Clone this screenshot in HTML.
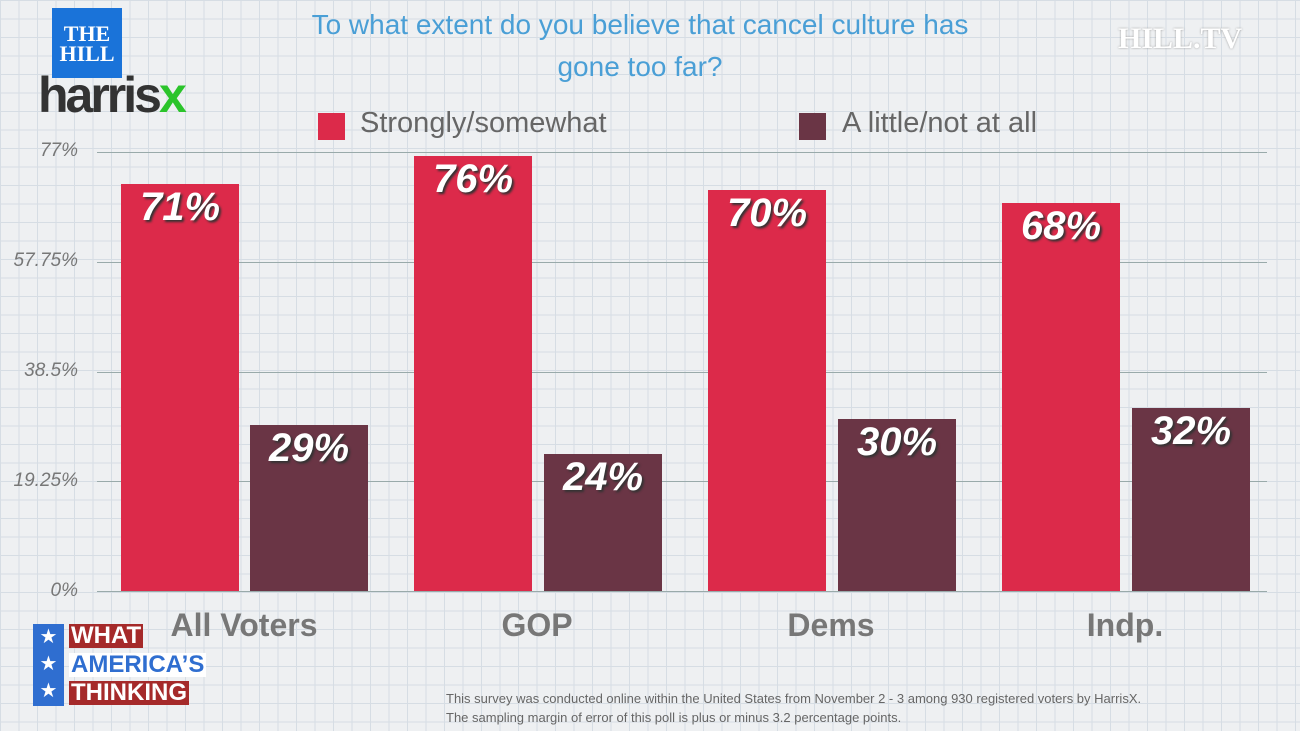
<!DOCTYPE html>
<html><head><meta charset="utf-8"><style>
body{margin:0}
#c{position:relative;width:1300px;height:731px;overflow:hidden;font-family:"Liberation Sans",sans-serif;
background-color:#eef0f2;
background-image:linear-gradient(#d6dde4 1px,transparent 1px),linear-gradient(90deg,#d6dde4 1px,transparent 1px),linear-gradient(#c8d2dc 1px,transparent 1px),linear-gradient(90deg,#c8d2dc 1px,transparent 1px);
background-size:18.5px 18.5px,18.5px 18.5px,92.5px 92.5px,92.5px 92.5px;}
.a{position:absolute}
.bar{position:absolute;width:118px;bottom:140px}
.r{background:#dc2a4a}
.d{background:#6a3545}
.v{position:absolute;width:118px;text-align:center;color:#fff;font-weight:bold;font-style:italic;font-size:40px;text-shadow:2px 2px 2px #333}
.yl{position:absolute;left:0;width:78px;text-align:right;color:#777;font-style:italic;font-size:19px}
.gl{position:absolute;left:97px;width:1170px;height:1px;background:#9aa}
.cat{position:absolute;width:240px;text-align:center;color:#777;font-size:32px;font-weight:bold;top:607px}
</style></head><body><div id="c">
<div class="a" style="left:52px;top:8px;width:70px;height:70px;background:#1a73d9;color:#fff;font-family:'Liberation Serif',serif;font-weight:bold;font-size:22px;line-height:20px;text-align:center;padding-top:16px;box-sizing:border-box">THE<br>HILL</div>
<div class="a" style="left:38px;top:66px;font-size:50px;font-weight:bold;color:#333;letter-spacing:-3px">harris<span style="color:#2bc42b">x</span></div>
<div class="a" style="left:200px;top:4px;width:880px;text-align:center;color:#4a9fd6;font-size:28px;line-height:42px">To what extent do you believe that cancel culture has<br>gone too far?</div>
<div class="a" style="left:1118px;top:22px;font-family:'Liberation Serif',serif;font-size:30px;font-weight:bold;color:#fff;text-shadow:0 0 2px #999">HILL.TV</div>
<div class="a" style="left:318px;top:113px;width:27px;height:27px;background:#dc2a4a"></div>
<div class="a" style="left:360px;top:107px;font-size:29px;color:#666">Strongly/somewhat</div>
<div class="a" style="left:799px;top:113px;width:27px;height:27px;background:#6a3545"></div>
<div class="a" style="left:842px;top:107px;font-size:29px;color:#666">A little/not at all</div>
<div class="gl" style="top:152px"></div><div class="gl" style="top:262px"></div><div class="gl" style="top:372px"></div><div class="gl" style="top:481px"></div><div class="gl" style="top:591px"></div>
<div class="yl" style="top:140px">77%</div><div class="yl" style="top:250px">57.75%</div><div class="yl" style="top:360px">38.5%</div><div class="yl" style="top:470px">19.25%</div><div class="yl" style="top:580px">0%</div>
<div class="bar r" style="left:121px;top:184px"></div><div class="v" style="left:121px;top:185px">71%</div>
<div class="bar d" style="left:250px;top:425px"></div><div class="v" style="left:250px;top:426px">29%</div>
<div class="bar r" style="left:414px;top:156px"></div><div class="v" style="left:414px;top:157px">76%</div>
<div class="bar d" style="left:544px;top:454px"></div><div class="v" style="left:544px;top:455px">24%</div>
<div class="bar r" style="left:708px;top:190px"></div><div class="v" style="left:708px;top:191px">70%</div>
<div class="bar d" style="left:838px;top:419px"></div><div class="v" style="left:838px;top:420px">30%</div>
<div class="bar r" style="left:1002px;top:203px"></div><div class="v" style="left:1002px;top:204px">68%</div>
<div class="bar d" style="left:1132px;top:408px"></div><div class="v" style="left:1132px;top:409px">32%</div>
<div class="cat" style="left:124px">All Voters</div><div class="cat" style="left:417px">GOP</div><div class="cat" style="left:711px">Dems</div><div class="cat" style="left:1005px">Indp.</div>
<div class="a" style="left:33px;top:624px;width:31px;height:82px;background:#2f6ed0;color:#fff;font-size:20px;line-height:27px;text-align:center">★<br>★<br>★</div>
<div class="a" style="left:69px;top:624px;background:#a52a2a;color:#fff;font-weight:bold;font-size:24px;line-height:24px;padding:0 2px">WHAT</div>
<div class="a" style="left:69px;top:653px;background:#fff;color:#2f6ed0;font-weight:bold;font-size:24px;line-height:24px;padding:0 2px">AMERICA’S</div>
<div class="a" style="left:69px;top:681px;background:#a52a2a;color:#fff;font-weight:bold;font-size:24px;line-height:24px;padding:0 2px">THINKING</div>
<div class="a" style="left:446px;top:689px;color:#666;font-size:13px;line-height:19px">This survey was conducted online within the United States from November 2 - 3 among 930 registered voters by HarrisX.<br>The sampling margin of error of this poll is plus or minus 3.2 percentage points.</div>
</div></body></html>
